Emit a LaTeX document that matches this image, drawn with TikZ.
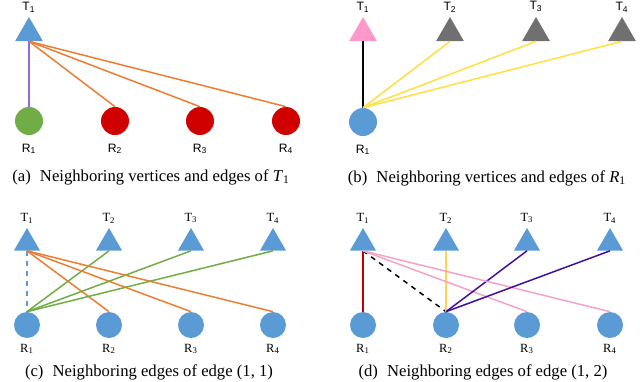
\documentclass[tikz,border=0pt]{standalone}
\usepackage{fontspec}
\setmainfont{Liberation Serif}
\newfontfamily\labelsans{Liberation Sans}
\usepackage{tikz}
\usetikzlibrary{shapes.geometric,positioning}

\definecolor{tblue}{HTML}{5B9BD5}
\definecolor{lorange}{HTML}{ED7D31}
\definecolor{lgreen}{HTML}{70AD47}
\definecolor{rred}{HTML}{D00000}
\definecolor{tpink}{HTML}{FF99CC}
\definecolor{tgrey}{HTML}{707070}
\definecolor{lyellow}{HTML}{FFE040}
\definecolor{lpurple}{HTML}{9966E0}
\definecolor{ldred}{HTML}{C00000}
\definecolor{lgold}{HTML}{FFD54F}
\definecolor{lpink}{HTML}{F4A3C8}
\definecolor{lindigo}{HTML}{3F0F9F}

\begin{document}
\begin{tikzpicture}[
  x=0.6pt, y=-0.6pt,
  tx/.style={regular polygon, regular polygon sides=3, inner sep=0pt, minimum size=19.2pt, fill=tblue},
  txs/.style={regular polygon, regular polygon sides=3, inner sep=0pt, minimum size=18pt, fill=tblue},
  rx/.style={circle, inner sep=0pt, minimum size=16.8pt, fill=tblue},
  rxs/.style={circle, inner sep=0pt, minimum size=15.6pt, fill=tblue},
  lab/.style={inner sep=0pt, font=\fontsize{7.3}{8}\selectfont\labelsans},
  labs/.style={inner sep=0pt, font=\fontsize{7.5}{9}\selectfont},
  link/.style={line width=0.9pt},
  subcap/.style={anchor=base, inner sep=0pt, font=\fontsize{10}{12}\selectfont}
]
  \clip (0,0) rectangle (640,381);

  % (a)
  \node[tx] (ta1) at (29,33) {};
  \node[lab, above=2.4pt of ta1] (lta1) {T\textsubscript{1}};
  \node[rx, fill=lgreen] (ra1) at (29,121) {};
  \node[rx, fill=rred] (ra2) at (115,121) {};
  \node[rx, fill=rred] (ra3) at (200,121) {};
  \node[rx, fill=rred] (ra4) at (286,121) {};
  \foreach \i in {1,...,4}
    \node[lab, below=4.8pt of ra\i] (lra\i) {R\textsubscript{\i}};
  \draw[link, lpurple] (ta1.side 2) -- (ra1.north);
  \foreach \i in {2,3,4}
    \draw[link, lorange] (ta1.side 2) -- (ra\i.north);
  \node[subcap] (capa) at (151,181) {(a)\hspace{0.55em}Neighboring vertices and edges of \textit{T}\textsubscript{1}};

  % (b)
  \node[tx, fill=tpink] (tb1) at (363,33) {};
  \node[tx, fill=tgrey] (tb2) at (450,33) {};
  \node[tx, fill=tgrey] (tb3) at (536,33) {};
  \node[tx, fill=tgrey] (tb4) at (622,33) {};
  \foreach \i in {1,...,4}
    \node[lab, above=2.4pt of tb\i] (ltb\i) {T\textsubscript{\i}};
  \node[rx] (rb1) at (363,122) {};
  \node[lab, below=4.8pt of rb1] (lrb1) {R\textsubscript{1}};
  \draw[link, black] (rb1.north) -- (tb1.side 2);
  \foreach \i in {2,3,4}
    \draw[link, lyellow] (rb1.north) -- (tb\i.side 2);
  \node[subcap] (capb) at (487,182) {(b)\hspace{0.55em}Neighboring vertices and edges of \textit{R}\textsubscript{1}};

  % (c)
  \foreach \i/\x in {1/27,2/109,3/191,4/273} {
    \node[txs] (tc\i) at (\x,243) {};
    \node[labs, above=2.4pt of tc\i] (ltc\i) {T\textsubscript{\i}};
    \node[rxs] (rc\i) at (\x,325) {};
    \node[labs, below=3.2pt of rc\i] (lrc\i) {R\textsubscript{\i}};
  }
  \draw[link, tblue, dashed] (tc1.side 2) -- (rc1.north);
  \foreach \i in {2,3,4} {
    \draw[link, lorange] (tc1.side 2) -- (rc\i.north);
    \draw[link, lgreen] (rc1.north) -- (tc\i.side 2);
  }
  \node[subcap] (capc) at (149,376) {(c)\hspace{0.55em}Neighboring edges of edge (1, 1)};

  % (d)
  \foreach \i/\x in {1/363,2/446,3/527,4/610} {
    \node[txs] (td\i) at (\x,243) {};
    \node[labs, above=2.4pt of td\i] (ltd\i) {T\textsubscript{\i}};
    \node[rxs] (rd\i) at (\x,325) {};
    \node[labs, below=3.2pt of rd\i] (lrd\i) {R\textsubscript{\i}};
  }
  \draw[link, ldred] (td1.side 2) -- (rd1.north);
  \draw[link, black, dashed] (td1.side 2) -- (rd2.north);
  \draw[link, lgold] (td2.side 2) -- (rd2.north);
  \foreach \i in {3,4} {
    \draw[link, lpink] (td1.side 2) -- (rd\i.north);
    \draw[link, lindigo] (rd2.north) -- (td\i.side 2);
  }
  \node[subcap] (capd) at (483,376) {(d)\hspace{0.55em}Neighboring edges of edge (1, 2)};
\end{tikzpicture}
\end{document}
